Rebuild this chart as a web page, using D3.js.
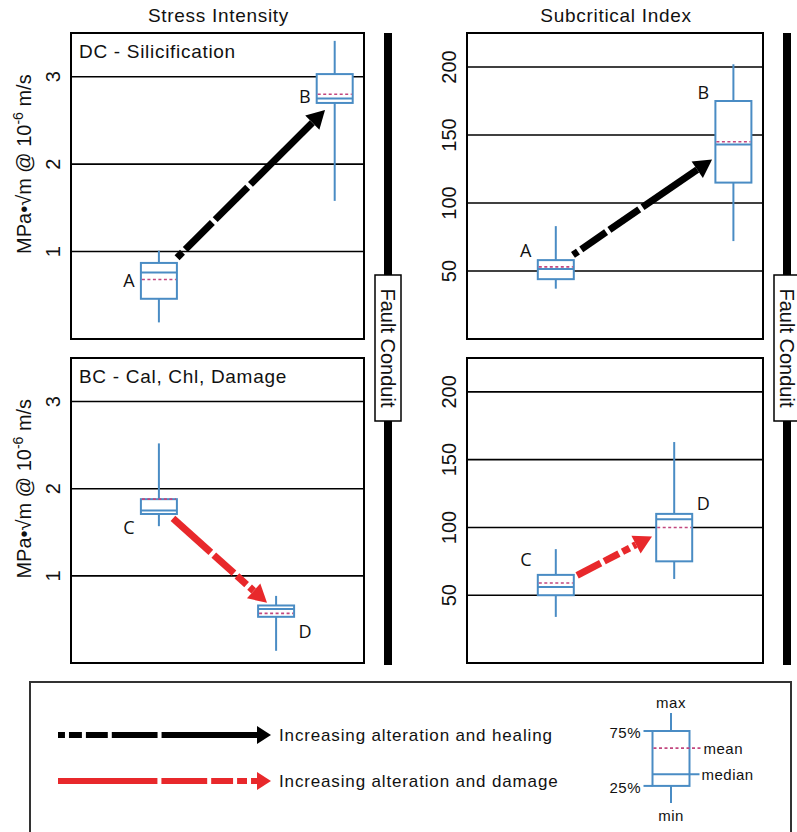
<!DOCTYPE html>
<html>
<head>
<meta charset="utf-8">
<script src="https://cdn.jsdelivr.net/npm/d3@7"></script>
<style>
  body { margin: 0; background: #fff; }
  svg { display: block; }
  text { font-family: "Liberation Sans", Arial, sans-serif; fill: #111; }
</style>
</head>
<body>
<div id="chart"></div>
<script>
// ---- data ----
var metrics = ["Stress Intensity", "Subcritical Index"];
var zones = ["DC - Silicification", "BC - Cal, Chl, Damage"];
var groups = ["A", "B", "C", "D"];
var groupPos = [3, 9, 3, 7];          // place of each group along a panel (0-10)
var groupRow = [0, 0, 1, 1];

var stressMin    = [0.19, 1.58, 1.57, 0.14];
var stressQ1     = [0.46, 2.70, 1.71, 0.53];
var stressMedian = [0.76, 2.75, 1.75, 0.62];
var stressMean   = [0.68, 2.80, 1.88, 0.57];
var stressQ3     = [0.87, 3.03, 1.88, 0.66];
var stressMax    = [1.01, 3.41, 2.52, 0.77];
var stressLabelY = [0.67, 2.77, 1.56, 0.36];

var subMin    = [37, 72, 34, 62];
var subQ1     = [44, 115, 50, 75];
var subMedian = [51.5, 143, 56, 106];
var subMean   = [53, 145, 59, 100];
var subQ3     = [58, 175, 65, 110];
var subMax    = [83, 202, 84, 163];
var subLabelY = [65, 181, 76, 118];

var stressTicks = [1, 2, 3];
var subTicks = [50, 100, 150, 200];

// arrows: [x1, y1, x2, y2] per row (row 0 = A->B, row 1 = C->D)
var stressArrows = [[3.62, 0.93, 8.67, 2.62], [3.48, 1.66, 6.69, 0.69]];
var subArrows    = [[3.58, 61.8, 8.28, 132], [3.72, 64.7, 6.25, 93.4]];

var legendItems = ["Increasing alteration and healing", "Increasing alteration and damage"];
var legendBox = [0, 19, 32, 61, 80, 100];   // min, q1, median, mean, q3, max

// ---- layout ----
var W = 797, H = 832;
var blue = "#4a8cc4", meanCol = "#c2477f", red = "#e8282b";
var cols = [[71, 364], [467, 763]];
var rows = [[33, 339], [358, 663]];

var svg = d3.select("#chart").append("svg")
  .attr("width", W).attr("height", H);

var healDash = [0.04, 0.2, 0.24, null];
var damageDash = [null, 0.25, 0.12, 0.05];

function arrow(g, x1, y1, x2, y2, color, pattern, gap, sw, headL, headW) {
  var dx = x2 - x1, dy = y2 - y1, L = Math.hypot(dx, dy);
  var ux = dx / L, uy = dy / L;
  var shaft = L - headL;
  var fixed = d3.sum(pattern.filter(function (p) { return p != null; })) * shaft;
  var rest = shaft - fixed - gap * (pattern.length - 1);
  var pos = 0;
  pattern.forEach(function (p) {
    var len = p == null ? rest : p * shaft;
    g.append("line")
      .attr("x1", x1 + ux * pos).attr("y1", y1 + uy * pos)
      .attr("x2", x1 + ux * (pos + len)).attr("y2", y1 + uy * (pos + len))
      .attr("stroke", color).attr("stroke-width", sw);
    pos += len + gap;
  });
  var bx = x2 - ux * headL, by = y2 - uy * headL;
  g.append("path")
    .attr("d", "M" + x2 + "," + y2 +
      "L" + (bx - uy * headW) + "," + (by + ux * headW) +
      "L" + (bx + uy * headW) + "," + (by - ux * headW) + "Z")
    .attr("fill", color);
}

metrics.forEach(function (metric, c) {
  var isStress = c == 0;
  var ticks = isStress ? stressTicks : subTicks;
  var st = isStress
    ? [stressMin, stressQ1, stressMedian, stressMean, stressQ3, stressMax, stressLabelY]
    : [subMin, subQ1, subMedian, subMean, subQ3, subMax, subLabelY];
  var arrows = isStress ? stressArrows : subArrows;

  // column title
  svg.append("text")
    .attr("x", (cols[c][0] + cols[c][1]) / 2 + 1).attr("y", 22)
    .attr("text-anchor", "middle")
    .style("font-size", "19px").style("letter-spacing", "0.7px")
    .text(metric);

  rows.forEach(function (r, ri) {
    var x = d3.scaleLinear().domain([0, 10]).range(cols[c]);
    var y = d3.scaleLinear().domain(isStress ? [0, 3.5] : [0, 225]).range([r[1], r[0]]);
    var g = svg.append("g");

    // grid lines
    g.selectAll(".grid").data(ticks).enter().append("line")
      .attr("x1", cols[c][0]).attr("x2", cols[c][1])
      .attr("y1", function (d) { return y(d); })
      .attr("y2", function (d) { return y(d); })
      .attr("stroke", "#000").attr("stroke-width", 1.6);

    // rotated tick labels
    g.selectAll(".tick").data(ticks).enter().append("text")
      .attr("transform", function (d) {
        return "translate(" + (cols[c][0] - 11) + "," + y(d) + ") rotate(-90)";
      })
      .attr("text-anchor", "middle")
      .style("font-size", "20px")
      .text(function (d) { return d; });

    // frame
    g.append("rect")
      .attr("x", cols[c][0]).attr("y", r[0])
      .attr("width", cols[c][1] - cols[c][0]).attr("height", r[1] - r[0])
      .attr("fill", "none").attr("stroke", "#000").attr("stroke-width", 2);

    if (isStress) {
      g.append("text")
        .attr("x", cols[c][0] + 8).attr("y", r[0] + 25)
        .style("font-size", "19px").style("letter-spacing", "0.7px")
        .text(zones[ri]);

      var yl = g.append("text")
        .attr("transform", "translate(31," + y(2) + ") rotate(-90)")
        .attr("text-anchor", "middle")
        .style("font-size", "20px");
      yl.append("tspan").text("MPa\u2022\u221Am @ 10");
      yl.append("tspan").attr("dy", -8).style("font-size", "14px").text("-6");
      yl.append("tspan").attr("dy", 8).text(" m/s");
    }

    // box plots of this row
    var idx = d3.range(groups.length).filter(function (i) { return groupRow[i] == ri; });
    var bw = 36;
    idx.forEach(function (i) {
      var cx = x(groupPos[i]);
      var b = g.append("g");
      b.append("line").attr("x1", cx).attr("x2", cx)
        .attr("y1", y(st[5][i])).attr("y2", y(st[0][i]))
        .attr("stroke", blue).attr("stroke-width", 2);
      b.append("rect")
        .attr("x", cx - bw / 2).attr("y", y(st[4][i]))
        .attr("width", bw).attr("height", y(st[1][i]) - y(st[4][i]))
        .attr("fill", "#fff").attr("stroke", blue).attr("stroke-width", 2);
      b.append("line").attr("x1", cx - bw / 2).attr("x2", cx + bw / 2)
        .attr("y1", y(st[2][i])).attr("y2", y(st[2][i]))
        .attr("stroke", blue).attr("stroke-width", 2);
      b.append("line").attr("x1", cx - bw / 2 + 1).attr("x2", cx + bw / 2 - 1)
        .attr("y1", y(st[3][i])).attr("y2", y(st[3][i]))
        .attr("stroke", meanCol).attr("stroke-width", 1.6)
        .attr("stroke-dasharray", "3,2.5");

      var dxLab = groups[i] == "D" ? 29 : -30;
      g.append("text")
        .attr("x", cx + dxLab).attr("y", y(st[6][i]))
        .attr("text-anchor", "middle").attr("dy", "0.36em")
        .style("font-family", "'Open Sans', sans-serif")
        .style("font-size", "18px")
        .text(groups[i]);
    });

    var a = arrows[ri];
    arrow(g, x(a[0]), y(a[1]), x(a[2]), y(a[3]),
      ri == 0 ? "#000" : red, ri == 0 ? healDash : damageDash, 4, 7, 18, 10);
  });

  // fault conduit bar
  var fx = cols[c][1] + 24;
  svg.append("rect")
    .attr("x", fx - 4).attr("y", rows[0][0])
    .attr("width", 8).attr("height", rows[1][1] - rows[0][0] + 2)
    .attr("fill", "#000");
  svg.append("rect")
    .attr("x", fx - 13).attr("y", 275)
    .attr("width", 26).attr("height", 146)
    .attr("fill", "#fff").attr("stroke", "#000").attr("stroke-width", 1.5);
  svg.append("text")
    .attr("transform", "translate(" + fx + ",348) rotate(90)")
    .attr("text-anchor", "middle").attr("dy", "0.36em")
    .style("font-size", "20px")
    .text("Fault Conduit");
});

// ---- legend ----
var lg = svg.append("g");
lg.append("rect")
  .attr("x", 30).attr("y", 682).attr("width", 761).attr("height", 200)
  .attr("fill", "none").attr("stroke", "#333").attr("stroke-width", 2);

var legY = [735, 781];
legendItems.forEach(function (t, i) {
  arrow(lg, 58, legY[i], 271, legY[i], i == 0 ? "#000" : red,
    i == 0 ? [0.035, 0.065, 0.11, 0.23, null] : [null, 0.23, 0.11, 0.05, 0.03],
    4, 6, 14, 9);
  lg.append("text")
    .attr("x", 279).attr("y", legY[i]).attr("dy", "0.36em")
    .style("font-size", "17px").style("letter-spacing", "0.85px")
    .text(t);
});

var ly = d3.scaleLinear().domain([0, 100]).range([803, 713]);
var lcx = 671, lbw = 37;
lg.append("line").attr("x1", lcx).attr("x2", lcx)
  .attr("y1", ly(legendBox[5])).attr("y2", ly(legendBox[0]))
  .attr("stroke", blue).attr("stroke-width", 2);
lg.append("rect")
  .attr("x", lcx - lbw / 2).attr("y", ly(legendBox[4]))
  .attr("width", lbw).attr("height", ly(legendBox[1]) - ly(legendBox[4]))
  .attr("fill", "#fff").attr("stroke", blue).attr("stroke-width", 2);
lg.append("line").attr("x1", lcx - lbw / 2).attr("x2", lcx + lbw / 2 + 10)
  .attr("y1", ly(legendBox[2])).attr("y2", ly(legendBox[2]))
  .attr("stroke", blue).attr("stroke-width", 2);
lg.append("line").attr("x1", lcx - lbw / 2 + 1).attr("x2", lcx + lbw / 2 + 13)
  .attr("y1", ly(legendBox[3])).attr("y2", ly(legendBox[3]))
  .attr("stroke", meanCol).attr("stroke-width", 1.6)
  .attr("stroke-dasharray", "3,2.5");
[1, 4].forEach(function (k) {
  lg.append("line").attr("x1", lcx - lbw / 2 - 9).attr("x2", lcx - lbw / 2)
    .attr("y1", ly(legendBox[k])).attr("y2", ly(legendBox[k]))
    .attr("stroke", blue).attr("stroke-width", 2);
});

function legLabel(x, y, anchor, t) {
  lg.append("text").attr("x", x).attr("y", y).attr("dy", "0.36em")
    .attr("text-anchor", anchor)
    .style("font-size", "15px").style("letter-spacing", "0.5px")
    .text(t);
}
legLabel(lcx, 703, "middle", "max");
legLabel(lcx, 816, "middle", "min");
legLabel(641, ly(legendBox[4]) + 2, "end", "75%");
legLabel(641, ly(legendBox[1]) + 2, "end", "25%");
legLabel(lcx + lbw / 2 + 14, ly(legendBox[3]), "start", "mean");
legLabel(lcx + lbw / 2 + 12, ly(legendBox[2]), "start", "median");
</script>
</body>
</html>
